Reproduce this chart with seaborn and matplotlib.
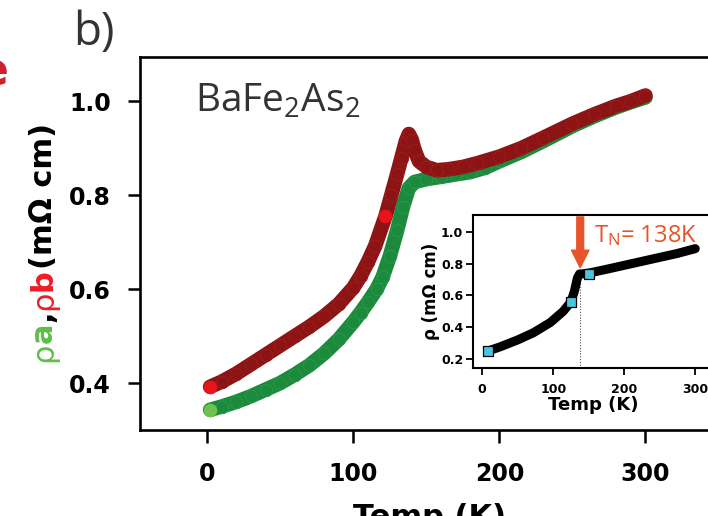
import matplotlib
matplotlib.use("Agg")
import matplotlib.pyplot as plt
from matplotlib.transforms import IdentityTransform
import seaborn as sns

# Resistivity along the b axis (dark red) and a axis (green), BaFe2As2
temp_b = [2, 10, 20, 30, 40, 50, 60, 70, 80, 90, 100, 105, 110, 115, 122, 126,
          130, 133, 136, 138, 140, 142, 145, 150, 157, 165, 175, 185, 200, 215,
          230, 250, 265, 280, 290, 300]
rho_b = [0.392, 0.403, 0.420, 0.440, 0.460, 0.480, 0.500, 0.520, 0.542, 0.568,
         0.603, 0.628, 0.658, 0.692, 0.755, 0.800, 0.845, 0.880, 0.915, 0.930,
         0.918, 0.895, 0.872, 0.860, 0.853, 0.855, 0.860, 0.868, 0.882, 0.900,
         0.922, 0.952, 0.972, 0.990, 1.000, 1.012]

temp_a = [2, 10, 20, 30, 40, 50, 60, 70, 80, 90, 100, 105, 110, 116, 120, 125,
          130, 134, 138, 142, 150, 160, 170, 180, 190, 200, 215, 230, 250, 265,
          280, 290, 300]
rho_a = [0.343, 0.350, 0.360, 0.372, 0.386, 0.400, 0.418, 0.438, 0.463, 0.493,
         0.530, 0.550, 0.572, 0.600, 0.625, 0.670, 0.725, 0.775, 0.815, 0.828,
         0.834, 0.839, 0.844, 0.849, 0.858, 0.872, 0.892, 0.915, 0.947, 0.968,
         0.987, 0.998, 1.008]

# highlighted single readings
hi_b_T = [2, 122]
hi_b_rho = [0.392, 0.755]
hi_a_T = [2]
hi_a_rho = [0.343]

# Inset: twinned sample
temp_inset = [8, 25, 50, 72, 96, 114, 125, 130, 134, 137, 145, 151, 175, 200,
              225, 250, 275, 300]
rho_inset = [0.25, 0.276, 0.32, 0.365, 0.43, 0.50, 0.56, 0.63, 0.71, 0.735,
             0.738, 0.742, 0.765, 0.79, 0.815, 0.84, 0.865, 0.895]
marked_T = [8, 125, 151]
marked_rho = [0.25, 0.56, 0.737]
TN = 138
TN_rho = 0.735

main_xticks = [0, 100, 200, 300]
main_yticks = [0.4, 0.6, 0.8, 1.0]
inset_xticks = [0, 100, 200, 300]
inset_yticks = [0.2, 0.4, 0.6, 0.8, 1.0]

RED_DARK = "#8c1414"
GREEN = "#1c8a3c"
ORANGE = "#e8542a"

sns.set_style("ticks")
plt.rcParams["font.family"] = ["DejaVu Sans"]
plt.rcParams["text.color"] = "black"
plt.rcParams["axes.labelcolor"] = "black"
plt.rcParams["xtick.color"] = "black"
plt.rcParams["ytick.color"] = "black"
plt.rcParams["axes.edgecolor"] = "black"
plt.rcParams["mathtext.fontset"] = "custom"
plt.rcParams["mathtext.rm"] = "Open Sans"
plt.rcParams["mathtext.it"] = "Open Sans:italic"
plt.rcParams["mathtext.bf"] = "Open Sans:bold"

W, H = 708, 516
fig = plt.figure(figsize=(W / 100, H / 100), dpi=100)
fig.patch.set_facecolor("white")

ax = fig.add_axes([140 / W, 1 - 430 / H, 580 / W, 373 / H])
sns.lineplot(x=temp_a, y=rho_a, ax=ax, color=GREEN, lw=10.5,
             solid_capstyle="round", marker="o", markersize=9,
             markeredgecolor="#2a9a48", markeredgewidth=0.6, zorder=2)
sns.lineplot(x=temp_b, y=rho_b, ax=ax, color=RED_DARK, lw=10.5,
             solid_capstyle="round", marker="o", markersize=9,
             markeredgecolor="#a01c1c", markeredgewidth=0.6, zorder=3)
sns.scatterplot(x=hi_a_T, y=hi_a_rho, ax=ax, color="#6cc24a", s=95,
                linewidth=0, zorder=4)
sns.scatterplot(x=hi_b_T, y=hi_b_rho, ax=ax, color="#e8141b", s=95,
                linewidth=0, zorder=4)

ax.set_xlim(-46, 351)
ax.set_ylim(0.3, 1.094)
ax.set_xticks(main_xticks)
ax.set_xticklabels([str(t) for t in main_xticks], fontweight="bold")
ax.set_yticks(main_yticks)
ax.set_yticklabels([f"{t:.1f}" for t in main_yticks], fontweight="bold")
ax.tick_params(direction="out", length=9, width=1.8, labelsize=17,
               color="black")
ax.tick_params(axis="x", pad=14)
ax.tick_params(axis="y", pad=12)
for s in ax.spines.values():
    s.set_linewidth(1.9)
    s.set_color("black")
ax.set_xlabel("Temp (K)", fontsize=22, fontweight="bold", labelpad=12)
ax.set_ylabel("")

# Inset
axin = fig.add_axes([473 / W, 1 - 368 / H, 240 / W, 153 / H])
axin.set_facecolor("white")
axin.set_zorder(5)
sns.lineplot(x=temp_inset, y=rho_inset, ax=axin, color="black", lw=6.5,
             solid_capstyle="round", zorder=2)
axin.vlines(TN, 0.143, TN_rho, colors="#555555", linestyles=(0, (1, 1.5)),
            lw=0.8, zorder=1)
sns.scatterplot(x=marked_T, y=marked_rho, ax=axin, marker="s", s=55,
                color="#4ec3dd", edgecolor="black", linewidth=0.9, zorder=5)
axin.annotate("", xy=(TN, 0.775), xytext=(TN, 1.095),
              arrowprops=dict(arrowstyle="simple,head_length=0.9,head_width=0.9,tail_width=0.35",
                              color=ORANGE, mutation_scale=14, shrinkA=0, shrinkB=0))
axin.text(158, 0.975, r"T$_\mathrm{N}$= 138K", color=ORANGE, fontsize=17,
          family="Open Sans", fontweight="normal", va="center", ha="left")
axin.set_xlim(-13, 325)
axin.set_ylim(0.143, 1.107)
axin.set_xticks(inset_xticks)
axin.set_xticklabels([str(t) for t in inset_xticks], fontweight="bold")
axin.set_yticks(inset_yticks)
axin.set_yticklabels([f"{t:.1f}" for t in inset_yticks], fontweight="bold")
axin.tick_params(direction="out", length=5, width=1.3, labelsize=9, pad=2)
axin.tick_params(axis="x", pad=6)
for s in axin.spines.values():
    s.set_linewidth(1.5)
    s.set_color("black")
axin.set_xlabel("Temp (K)", fontsize=13, fontweight="bold", labelpad=0)
axin.set_ylabel("ρ (mΩ cm)", fontsize=12, fontweight="bold", labelpad=1)

# Annotations in figure pixels
px = IdentityTransform()
fig.text(195, H - 112, r"BaFe$_\mathrm{2}$As$_\mathrm{2}$", transform=px,
         family="Open Sans", fontweight="normal", fontsize=28, color="#333333",
         va="baseline", ha="left")
fig.text(73, H - 45, "b)", transform=px, family="Open Sans",
         fontweight="normal", fontsize=33, color="#333333", va="baseline",
         ha="left")
fig.text(9, H - 85, "e", transform=px, fontsize=34, fontweight="bold",
         color="#d0202e", va="baseline", ha="right")

# Multicoloured y-axis label built from pieces stacked bottom to top
fig.canvas.draw()
renderer = fig.canvas.get_renderer()
label_parts = [("ρ", "#5cbf48", "normal"), ("a", "#5cbf48", "bold"),
               (",", "black", "bold"), ("ρ", "#ee1c25", "normal"),
               ("b", "#ee1c25", "bold"), ("(mΩ cm)", "black", "bold")]
ypos = H - 362
for txt, col, wt in label_parts:
    t = fig.text(52, ypos, txt, transform=px, rotation=90,
                 rotation_mode="anchor", ha="left", va="baseline",
                 fontsize=22, color=col, fontweight=wt)
    bb = t.get_window_extent(renderer)
    ypos += bb.height

fig.savefig("out.png", dpi=100)
